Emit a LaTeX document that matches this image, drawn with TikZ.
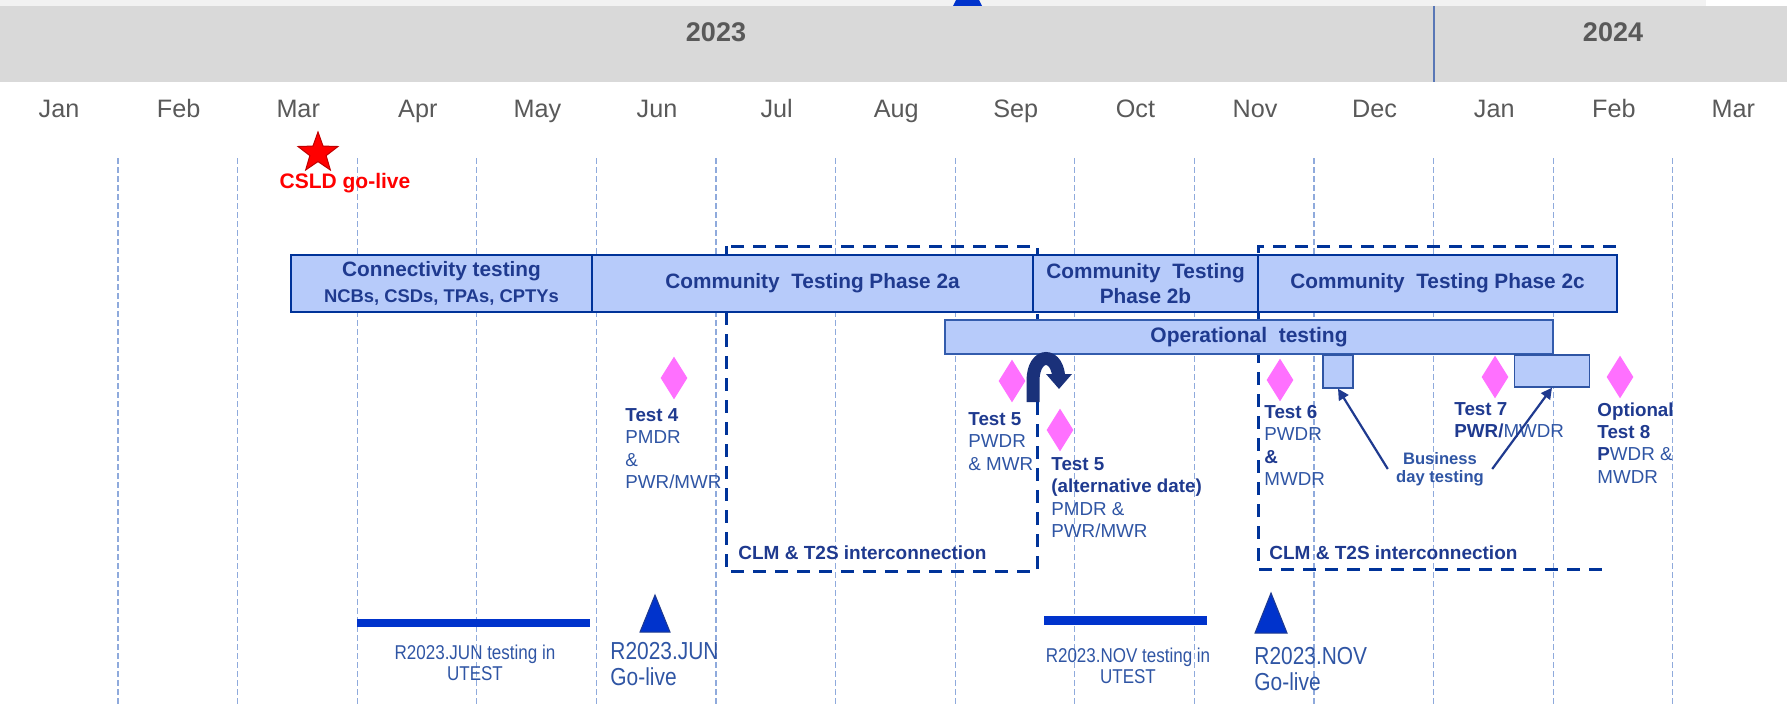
\documentclass[tikz,border=0pt]{standalone}
\usepackage{fontspec}
\setmainfont{Liberation Sans}
\newfontfamily\narrowfont[FakeStretch=0.85]{Liberation Sans}
\usetikzlibrary{shapes.geometric, arrows.meta}

\definecolor{stripgray}{RGB}{242,242,242}
\definecolor{bandgray}{RGB}{217,217,217}
\definecolor{monthgray}{RGB}{89,89,89}
\definecolor{gridblue}{RGB}{143,170,220}
\definecolor{boxfill}{RGB}{183,203,250}
\definecolor{boxline}{RGB}{0,51,153}
\definecolor{navy}{RGB}{31,58,143}
\definecolor{labelblue}{RGB}{47,85,164}
\definecolor{markblue}{RGB}{0,51,204}
\definecolor{markpink}{RGB}{255,112,255}

\newcommand{\bnv}[1]{\textbf{\color{navy}#1}}

\tikzset{
  monthlbl/.style={anchor=base, inner sep=0pt, text=monthgray, font=\fontsize{12.6}{15}\selectfont},
  yearlbl/.style={anchor=base, inner sep=0pt, text=monthgray, font=\fontsize{13.5}{16}\selectfont\bfseries},
  monthline/.style={draw=gridblue, line width=0.6pt, dash pattern=on 3pt off 1.5pt},
  clmline/.style={draw=boxline, line width=1.5pt, dash pattern=on 6.5pt off 4.5pt},
  phasebox/.style={draw=boxline, fill=boxfill, line width=1.4pt, inner sep=0pt, minimum height=28.5pt, align=center, text=navy, font=\fontsize{10.4}{12.2}\selectfont\bfseries},
  opbox/.style={draw=boxline!80!white, fill=boxfill, line width=0.8pt, inner sep=0pt, align=center, text=navy, font=\fontsize{10.5}{12}\selectfont\bfseries},
  daybox/.style={draw=labelblue, fill=boxfill, line width=0.7pt, inner sep=0pt},
  testmark/.style={diamond, fill=markpink, inner sep=0pt, minimum width=13.5pt, minimum height=21.5pt},
  testlbl/.style={anchor=north west, align=left, inner sep=0pt, text=labelblue, font=\fontsize{9.4}{11.2}\selectfont},
  clmlbl/.style={anchor=base west, inner sep=0pt, text=navy, font=\fontsize{9.5}{11}\selectfont\bfseries},
  rellbl/.style={inner sep=0pt, text=labelblue, font=\narrowfont\fontsize{10}{10.5}\selectfont},
  golbl/.style={anchor=north west, align=left, inner sep=0pt, text=labelblue, font=\narrowfont\fontsize{12.3}{13}\selectfont},
  bdarrow/.style={draw=navy, line width=1.1pt, -{Triangle[length=5.5pt, width=5.5pt]}}
}

\begin{document}
\begin{tikzpicture}[x=0.5pt,y=0.5pt,yscale=-1,xscale=1]
\useasboundingbox (0,0) rectangle (1787,706);

%Shape: Year band
\fill[stripgray] (0,0) rectangle (1706,6);
\fill[markblue] (953,6) -- (982,6) -- (979,0) -- (956,0) -- cycle;
\fill[bandgray] (0,6) rectangle (1787,82);
\draw[draw=labelblue!80!white, line width=0.6pt] (1434,6) -- (1434,82);
% Text Node
\node[yearlbl] (y2023) at (716,42) {2023};
% Text Node
\node[yearlbl] (y2024) at (1613,42) {2024};

% Month labels
\foreach \m [count=\i from 0] in {Jan,Feb,Mar,Apr,May,Jun,Jul,Aug,Sep,Oct,Nov,Dec,Jan,Feb,Mar}
  \node[monthlbl] (m\i) at ({59+119.6*\i},118) {\m};

% Month grid
\foreach \k in {0,...,13}
  \draw[monthline] ({118+119.6*\k},158) -- ({118+119.6*\k},706);

%Shape: Star
\node[star, star points=5, star point ratio=2.45, minimum size=21pt, inner sep=0pt, fill=red, draw=red!75!black, line width=0.5pt] (csld) at (318,153) {};
% Text Node
\node[anchor=base, inner sep=0pt, text=red, font=\fontsize{10.5}{12}\selectfont\bfseries] (csldlbl) at (345,188) {CSLD go-live};

%Shape: CLM & T2S interconnection (dashed)
\draw[clmline] (726,246) rectangle (1037,571);
\draw[clmline] (1616,246) -- (1258,246) -- (1258,569) -- (1608,569);

%Shape: Phase bars
\node[phasebox, line width=1pt, minimum width=150.5pt] (conn) at (441.5,283.5) {Connectivity testing\\[0.5pt]{\fontsize{9.2}{10}\selectfont NCBs, CSDs, TPAs, CPTYs}};
\node[phasebox, minimum width=220.5pt] (ph2a) at (812.5,283.5) {Community\ \ Testing Phase 2a};
\node[phasebox, minimum width=112.5pt] (ph2b) at (1145.5,283.5) {Community\ \ Testing\\Phase 2b};
\node[phasebox, minimum width=179.5pt] (ph2c) at (1437.5,283.5) {Community\ \ Testing Phase 2c};
\node[opbox, minimum width=304pt, minimum height=17pt] (optest) at (1249,337) {Operational\ \ testing};

%Shape: Business day boxes
\node[daybox, minimum width=15pt, minimum height=16.5pt] (box1) at (1338,371.5) {};
\node[daybox, minimum width=37.25pt, minimum height=16pt] (box2) at (1552,371) {};

%Shape: Curved arrow
\draw[draw=navy!85!black, line width=6.5pt, -{Triangle[length=7.5pt, width=12.5pt]}] (1033,402) -- (1033,381) .. controls (1033,351) and (1059,351) .. (1059,381) -- (1059,389);

%Shape: Test diamonds
\node[testmark] (d4) at (674,378) {};
\node[testmark] (d5) at (1012,381) {};
\node[testmark] (d5b) at (1060,430) {};
\node[testmark] (d6) at (1280,380) {};
\node[testmark] (d7) at (1495,377) {};
\node[testmark] (d8) at (1620,377) {};

% Text Node
\node[testlbl] (t4) at (625,408) {\bnv{Test 4}\\PMDR\\\&\\PWR/MWR};
% Text Node
\node[testlbl] (t5) at (968,412) {\bnv{Test 5}\\PWDR\\\& MWR};
% Text Node
\node[testlbl] (t5b) at (1051,457) {\bnv{Test 5}\\\bnv{(alternative date)}\\PMDR \&\\PWR/MWR};
% Text Node
\node[testlbl] (t6) at (1264,405) {\bnv{Test 6}\\PWDR\\\bnv{\&}\\MWDR};
% Text Node
\node[testlbl] (t7) at (1454,402) {\bnv{Test 7}\\\bnv{PWR/}MWDR};
% Text Node
\node[testlbl] (t8) at (1597,402) {\bnv{Optional}\\\bnv{Test 8}\\\bnv{P}WDR \&\\MWDR};

% Text Node
\node[align=center, inner sep=0pt, text=labelblue, font=\fontsize{8.3}{9}\selectfont\bfseries] (bdt) at (1440,469) {Business\\day testing};
\draw[bdarrow] ([xshift=-4pt]bdt.west) -- (box1.south);
\draw[bdarrow] ([xshift=4pt]bdt.east) -- (box2.south);

% Text Node
\node[clmlbl] (clm1) at (738,559) {CLM \& T2S interconnection};
% Text Node
\node[clmlbl] (clm2) at (1269,559) {CLM \& T2S interconnection};

%Shape: Release testing bars
\fill[markblue] (357,619) rectangle (590,627);
\fill[markblue] (1044,616) rectangle (1207,625);

%Shape: Go-live triangles
\filldraw[fill=markblue, draw=navy, line width=0.5pt] (655,595) -- (670,632) -- (640,632) -- cycle;
\filldraw[fill=markblue, draw=navy, line width=0.5pt] (1271,593) -- (1287,633) -- (1255,633) -- cycle;

% Text Node
\node[rellbl, anchor=north, align=center] (jtest) at (475,645) {R2023.JUN testing in\\UTEST};
% Text Node
\node[golbl] (jgo) at (610,642) {R2023.JUN\\Go-live};
% Text Node
\node[rellbl, anchor=north, align=center] (ntest) at (1128,648) {R2023.NOV testing in\\UTEST};
% Text Node
\node[golbl] (ngo) at (1254,647) {R2023.NOV\\Go-live};

\end{tikzpicture}
\end{document}
